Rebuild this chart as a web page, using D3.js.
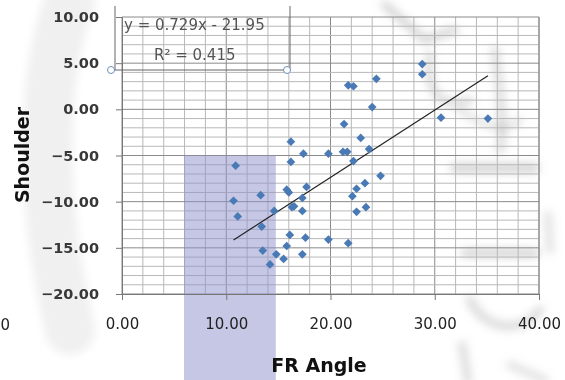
<!DOCTYPE html>
<html>
<head>
<meta charset="utf-8">
<script src="https://cdn.jsdelivr.net/npm/d3@7"></script>
<style>
  body { margin: 0; background: #fff; }
  svg { display: block; }
</style>
</head>
<body>
<div id="chart"></div>
<script>
// FR Angle vs Shoulder
const frAngle = [10.9, 10.7, 11.1, 13.3, 13.4, 14.6, 13.5, 14.8, 14.2, 15.5,
  15.8, 16.1, 15.8, 16.0, 16.2, 16.2, 17.4, 17.7, 17.3, 16.3,
  16.5, 17.3, 17.6, 17.3, 19.8, 19.8, 21.7, 21.3, 21.2, 21.6,
  22.1, 22.5, 22.5, 23.3, 23.4, 24.8, 22.2, 23.7, 22.9, 24.0,
  21.7, 22.2, 24.4, 28.8, 28.8, 30.6, 35.1];
const shoulder = [-6.1, -9.9, -11.6, -9.3, -12.7, -11.0, -15.3, -15.7, -16.8, -16.2,
  -14.8, -13.6, -8.7, -9.0, -3.5, -5.7, -4.8, -8.4, -9.6, -10.6,
  -10.5, -11.0, -13.9, -15.7, -4.8, -14.1, -14.5, -1.6, -4.6, -4.6,
  -9.4, -8.6, -11.1, -8.0, -10.6, -7.2, -5.6, -4.3, -3.1, 0.25,
  2.6, 2.5, 3.3, 4.9, 3.8, -0.9, -1.0];

const xTicks = [0, 10, 20, 30, 40];
const yTicks = [10, 5, 0, -5, -10, -15, -20];
const slope = 0.729, intercept = -21.95;
const eqLabel = "y = 0.729x - 21.95";
const r2Label = "R² = 0.415";

const W = 565, H = 380;
const margin = { top: 17, right: 26, bottom: 86, left: 122 };
const width = W - margin.left - margin.right;
const height = H - margin.top - margin.bottom;

const svg = d3.select('#chart').append('svg')
  .attr('width', W).attr('height', H);

// soft grey watermark behind the chart
svg.append('defs').append('filter')
  .attr('id', 'blur')
  .attr('x', '-50%').attr('y', '-50%').attr('width', '200%').attr('height', '200%')
  .append('feGaussianBlur').attr('stdDeviation', 4);

const wm = svg.append('g').attr('filter', 'url(#blur)')
  .attr('fill', 'none').attr('stroke', '#8a8a8a').attr('stroke-linecap', 'round');
wm.append('path')
  .attr('d', 'M70,0 C40,80 40,200 70,330')
  .attr('stroke', '#e6e6e6').attr('stroke-width', 50).attr('opacity', 0.6);
const marks = [
  ['M385,5 L425,40 L455,30', 8, 0.35],
  ['M430,55 C425,90 440,110 470,100', 8, 0.3],
  ['M495,50 C500,90 505,130 500,150', 8, 0.3],
  ['M460,110 C480,125 505,135 520,120', 7, 0.25],
  ['M455,168 L535,168', 10, 0.35],
  ['M465,253 L535,253', 9, 0.35],
  ['M548,215 L550,250', 8, 0.25],
  ['M470,300 C485,330 520,335 540,310', 9, 0.3],
  ['M462,345 L468,380', 8, 0.3],
  ['M510,365 L545,380', 8, 0.25]
];
wm.selectAll('path.m').data(marks).enter().append('path')
  .attr('class', 'm')
  .attr('d', d => d[0]).attr('stroke-width', d => d[1]).attr('opacity', d => d[2]);

const g = svg.append('g')
  .attr('transform', `translate(${margin.left},${margin.top})`);

const x = d3.scaleLinear().domain([0, 40]).range([0, width]);
const y = d3.scaleLinear().domain([-20, 10]).range([height, 0]);

// gridlines: major every 10 / 5, minor every 2 / 1
g.append('g').selectAll('line')
  .data(d3.range(0, 41, 2))
  .enter().append('line')
  .attr('x1', d => x(d)).attr('x2', d => x(d))
  .attr('y1', 0).attr('y2', height)
  .attr('stroke', d => d % 10 === 0 ? '#8a8a8a' : '#b8b8b8')
  .attr('stroke-width', 1);

g.append('g').selectAll('line')
  .data(d3.range(-20, 11, 1))
  .enter().append('line')
  .attr('x1', 0).attr('x2', width)
  .attr('y1', d => y(d)).attr('y2', d => y(d))
  .attr('stroke', d => d % 5 === 0 ? '#8a8a8a' : '#b8b8b8')
  .attr('stroke-width', 1);

g.append('line')
  .attr('x1', width).attr('x2', width).attr('y1', 0).attr('y2', height)
  .attr('stroke', '#8a8a8a');

// lavender overlay band
g.append('rect')
  .attr('x', x(5.95)).attr('width', x(14.75) - x(5.95))
  .attr('y', y(-5)).attr('height', H - margin.top - y(-5))
  .attr('fill', '#8c90cc').attr('opacity', 0.5);

// axes
const xAxis = g.append('g')
  .attr('transform', `translate(0,${height})`)
  .call(d3.axisBottom(x).tickValues(xTicks).tickSize(6).tickPadding(18)
    .tickFormat(d3.format('.2f')));
xAxis.select('.domain').attr('stroke', '#777');
xAxis.selectAll('.tick line').attr('stroke', '#777');
xAxis.selectAll('text')
  .attr('font-family', 'DejaVu Sans, sans-serif')
  .attr('font-size', 15).attr('fill', '#222');

const yAxis = g.append('g')
  .call(d3.axisLeft(y).tickValues(yTicks).tickSize(6).tickPadding(17)
    .tickFormat(d3.format('.2f')));
yAxis.select('.domain').attr('stroke', '#777');
yAxis.selectAll('.tick line').attr('stroke', '#777');
yAxis.selectAll('text')
  .attr('font-family', 'DejaVu Sans, sans-serif')
  .attr('font-weight', 'bold')
  .attr('font-size', 14.5).attr('fill', '#383838');

// trendline
const xMin = d3.min(frAngle), xMax = d3.max(frAngle);
g.append('line')
  .attr('x1', x(xMin)).attr('y1', y(slope * xMin + intercept))
  .attr('x2', x(xMax)).attr('y2', y(slope * xMax + intercept))
  .attr('stroke', '#222').attr('stroke-width', 1.2);

// diamond markers (square turned 45deg, like Excel)
const pts = frAngle.map((v, i) => [v, shoulder[i]]);
g.append('g').selectAll('path')
  .data(pts)
  .enter().append('path')
  .attr('transform', d => `translate(${x(d[0])},${y(d[1])}) rotate(45)`)
  .attr('d', d3.symbol().type(d3.symbolSquare).size(38))
  .attr('fill', '#4a7ab5');

// trendline label box (selected)
const box = { x0: 115, x1: 290, y0: 6, y1: 70 };
svg.append('path')
  .attr('d', `M${box.x0},${box.y0}V${box.y1}H${box.x1}V${box.y0}`)
  .attr('fill', 'none').attr('stroke', '#666').attr('stroke-width', 1);
svg.selectAll('circle.handle')
  .data([[box.x0 - 4, box.y1], [box.x1 - 3, box.y1]])
  .enter().append('circle')
  .attr('class', 'handle')
  .attr('cx', d => d[0]).attr('cy', d => d[1]).attr('r', 3.5)
  .attr('fill', '#fff').attr('stroke', '#6d8fb5').attr('stroke-width', 1);

svg.append('text')
  .attr('x', 124).attr('y', 30)
  .attr('font-family', 'DejaVu Sans, sans-serif')
  .attr('font-size', 15).attr('fill', '#555')
  .text(eqLabel);
svg.append('text')
  .attr('x', 154).attr('y', 60)
  .attr('font-family', 'DejaVu Sans, sans-serif')
  .attr('font-size', 15).attr('fill', '#555')
  .text(r2Label);

// axis titles
svg.append('text')
  .attr('x', 319).attr('y', 372)
  .attr('text-anchor', 'middle')
  .attr('font-family', 'DejaVu Sans, sans-serif')
  .attr('font-weight', 'bold').attr('font-size', 19)
  .attr('fill', '#111')
  .text('FR Angle');

svg.append('text')
  .attr('transform', 'translate(29,155) rotate(-90)')
  .attr('text-anchor', 'middle')
  .attr('font-family', 'DejaVu Sans, sans-serif')
  .attr('font-weight', 'bold').attr('font-size', 19)
  .attr('fill', '#111')
  .text('Shoulder');

// clipped label at left edge
svg.append('text')
  .attr('x', 10).attr('y', 330)
  .attr('text-anchor', 'end')
  .attr('font-family', 'DejaVu Sans, sans-serif')
  .attr('font-size', 15).attr('fill', '#222')
  .text('0');
</script>
</body>
</html>
